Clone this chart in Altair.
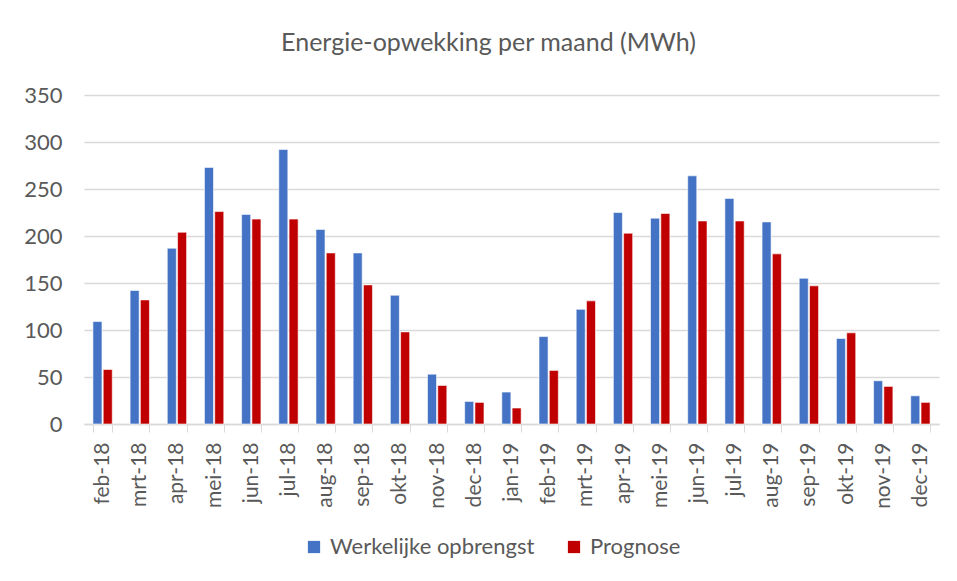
import altair as alt
import pandas as pd

months = ["feb-18", "mrt-18", "apr-18", "mei-18", "jun-18", "jul-18", "aug-18",
          "sep-18", "okt-18", "nov-18", "dec-18", "jan-19", "feb-19", "mrt-19",
          "apr-19", "mei-19", "jun-19", "jul-19", "aug-19", "sep-19", "okt-19",
          "nov-19", "dec-19"]
werkelijk = [109, 142, 187, 273, 223, 292, 207, 182, 137, 53, 24, 34, 93, 122,
             225, 219, 264, 240, 215, 155, 91, 46, 30]
prognose = [58, 132, 204, 226, 218, 218, 182, 148, 98, 41, 23, 17, 57, 131,
            203, 224, 216, 216, 181, 147, 97, 40, 23]
series = ["Werkelijke opbrengst", "Prognose"]
colors = ["#4472C4", "#C00000"]

rows = []
for m, w, p in zip(months, werkelijk, prognose):
    rows.append({"maand": m, "serie": series[0], "waarde": w})
    rows.append({"maand": m, "serie": series[1], "waarde": p})
df = pd.DataFrame(rows)

FONT = "Lato"
GREY = "#595959"

chart = alt.Chart(df).mark_bar(stroke="white", strokeWidth=0.6).encode(
    x=alt.X("maand:N", sort=months, title=None,
            scale=alt.Scale(paddingInner=0.48, paddingOuter=0.24),
            axis=alt.Axis(labelAngle=-90, labelAlign="right", labelBaseline="middle",
                          labelFontSize=21, labelColor=GREY, labelFont=FONT,
                          labelPadding=10, tickBand="extent", tickSize=8,
                          tickColor="#d9d9d9", domainColor="#d9d9d9",
                          domainWidth=1.5, grid=False)),
    xOffset=alt.XOffset("serie:N", sort=series, scale=alt.Scale(paddingInner=0.12)),
    y=alt.Y("waarde:Q", title=None,
            scale=alt.Scale(domain=[0, 350]),
            axis=alt.Axis(values=list(range(0, 351, 50)), labelFontSize=22,
                          labelColor=GREY, labelFont=FONT, labelPadding=22,
                          ticks=False, domain=False, gridColor="#d9d9d9",
                          gridWidth=1.5)),
    color=alt.Color("serie:N", sort=series,
                    scale=alt.Scale(domain=series, range=colors),
                    legend=alt.Legend(title=None, orient="none", direction="horizontal",
                                      legendX=219, legendY=441,
                                      symbolType="square", symbolSize=150,
                                      symbolStrokeWidth=0, labelFontSize=22,
                                      labelColor=GREY, labelFont=FONT, labelLimit=400,
                                      labelOffset=5, columnPadding=28)),
).properties(
    width=855,
    height=329,
    title=alt.TitleParams("Energie-opwekking per maand (MWh)", fontSize=25,
                          font=FONT, color=GREY, fontWeight="normal",
                          anchor="middle", dx=-23, offset=28),
    autosize=alt.AutoSizeParams(type="none"),
    padding={"left": 76, "top": 87, "right": 10, "bottom": 149},
).configure_view(stroke=None)

chart.save("out.html", embed_options={"renderer": "svg", "actions": False})
